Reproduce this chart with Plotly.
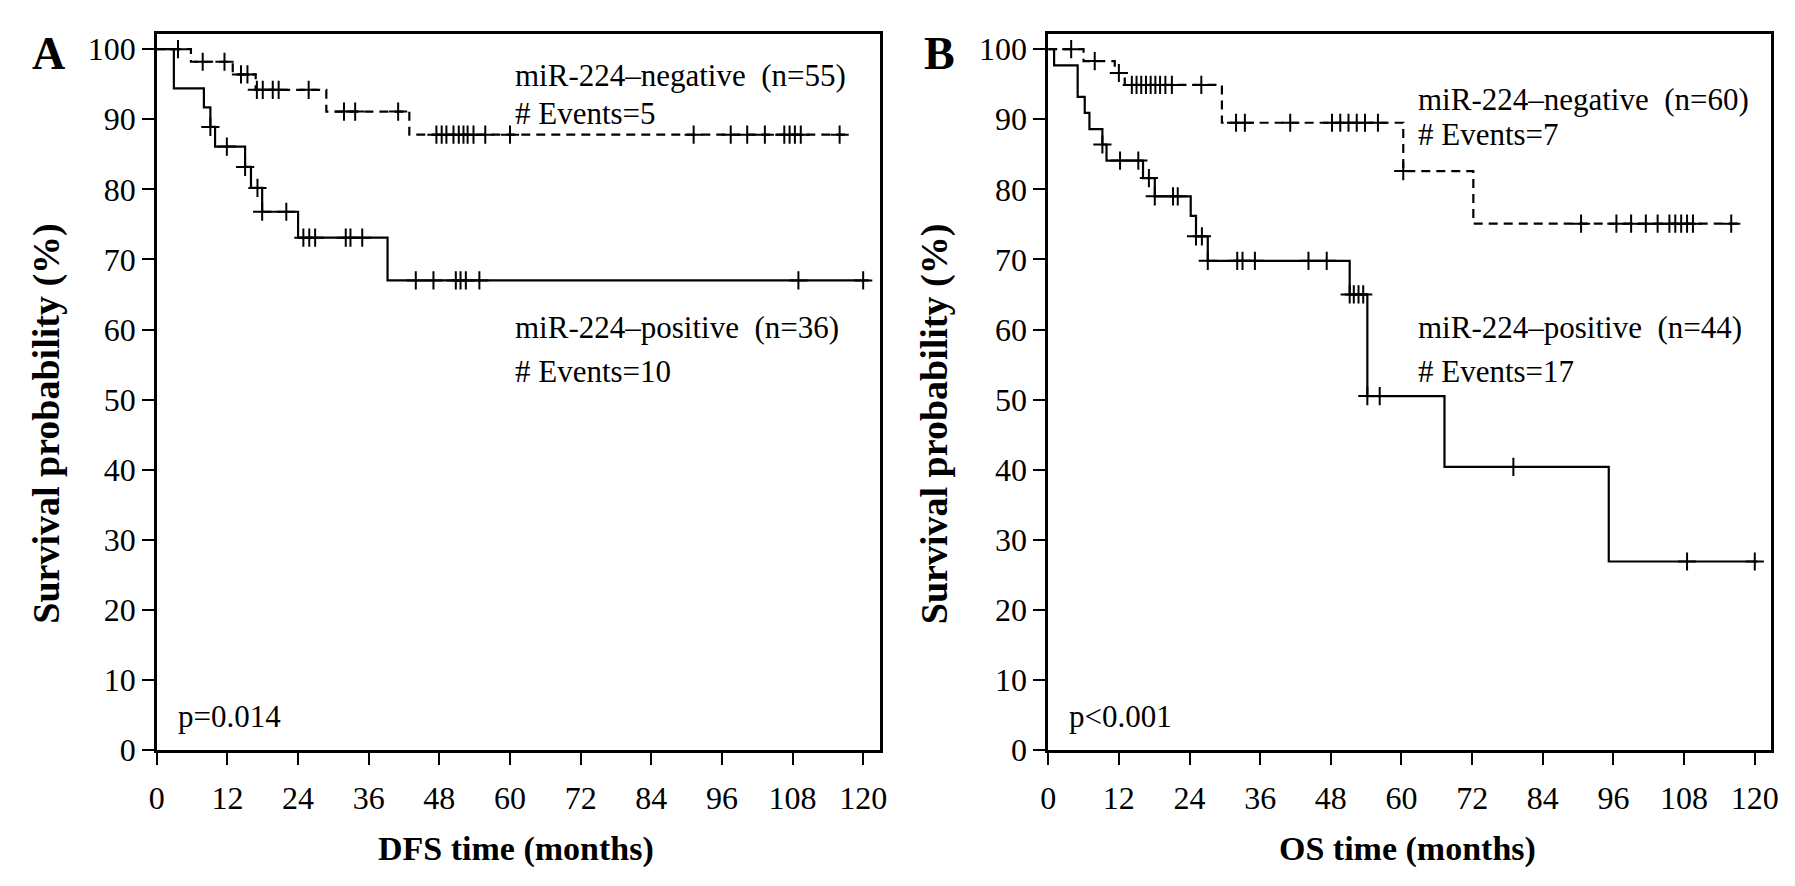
import numpy as np
import plotly.graph_objects as go
from plotly.subplots import make_subplots

# ---- panel A: DFS ----
a_neg_times = [5.8, 12.9, 16.8, 28.8, 42.9]
a_neg_surv = [98.2, 96.4, 94.2, 91.1, 87.8]
a_neg_last = 117.4
a_neg_censored = [3.6, 7.8, 11.5, 14.3, 15.4, 17.0, 18.0, 19.7, 20.7, 25.8, 31.8, 33.7, 41.0,
                  47.5, 48.4, 49.2, 50.4, 51.3, 52.1, 52.8, 53.8, 55.8, 60.0,
                  91.2, 97.5, 100.3, 103.3, 106.6, 107.5, 108.4, 109.4, 116.0]

a_pos_times = [2.9, 8.0, 9.1, 9.9, 15.0, 16.0, 17.9, 24.0, 39.2]
a_pos_surv = [94.4, 91.7, 88.9, 86.1, 83.2, 80.2, 76.8, 73.1, 67.0]
a_pos_last = 121.0
a_pos_censored = [9.1, 11.9, 15.0, 17.1, 17.9, 22.0, 24.9, 25.9, 26.9, 32.1, 32.9, 34.9,
                  44.0, 47.0, 50.8, 51.6, 52.5, 54.8, 109.0, 120.0]

# ---- panel B: OS ----
b_neg_times = [6.0, 11.3, 13.0, 29.5, 60.3, 72.2]
b_neg_surv = [98.3, 96.6, 94.9, 89.5, 82.6, 75.1]
b_neg_last = 117.5
b_neg_censored = [3.9, 7.9, 12.0, 14.2, 15.0, 15.8, 16.6, 17.4, 18.2, 19.0, 19.9, 21.0, 26.0,
                  31.9, 33.4, 41.1, 48.2, 49.6, 51.0, 52.4, 53.8, 56.0, 60.3,
                  90.5, 96.5, 99.0, 101.5, 103.5, 105.5, 106.5, 107.5, 108.5, 109.5, 116.0]

b_pos_times = [1.0, 5.0, 6.2, 7.0, 9.2, 9.9, 16.1, 18.1, 24.2, 25.1, 27.1, 51.2, 54.2, 67.3, 95.2]
b_pos_surv = [97.7, 93.2, 90.9, 88.6, 86.4, 84.1, 81.6, 79.0, 76.2, 73.3, 69.8, 65.0, 50.5, 40.4, 26.9]
b_pos_last = 120.5
b_pos_censored = [9.2, 12.2, 15.3, 17.1, 18.1, 21.2, 22.0, 25.1, 26.1, 27.1, 32.1, 33.0, 35.1,
                  44.2, 47.3, 51.2, 51.9, 52.7, 53.5, 54.2, 56.3, 79.0, 108.5, 120.0]

x_ticks = list(range(0, 121, 12))
y_ticks = list(range(0, 101, 10))

FONT = "Liberation Serif"


def km_path(times, surv, last):
    x = [0] + list(times) + [last]
    y = [100] + list(surv) + [surv[-1]]
    return x, y


def level_at(times, surv, t):
    levels = [100] + list(surv)
    idx = np.searchsorted(np.array(times), np.array(t), side='right')
    return [levels[i] for i in idx]


fig = make_subplots(rows=1, cols=2)

curves = [
    (a_neg_times, a_neg_surv, a_neg_last, a_neg_censored, '9px,6px', 1),
    (a_pos_times, a_pos_surv, a_pos_last, a_pos_censored, 'solid', 1),
    (b_neg_times, b_neg_surv, b_neg_last, b_neg_censored, '9px,6px', 2),
    (b_pos_times, b_pos_surv, b_pos_last, b_pos_censored, 'solid', 2),
]

for times, surv, last, cens, dash, col in curves:
    x, y = km_path(times, surv, last)
    fig.add_trace(go.Scatter(x=x, y=y, mode='lines', line_shape='hv',
                             line=dict(color='black', width=2.2, dash=dash),
                             hoverinfo='skip'), row=1, col=col)
    fig.add_trace(go.Scatter(x=cens, y=level_at(times, surv, cens), mode='markers',
                             marker=dict(symbol='cross-thin', size=13,
                                         line=dict(width=2, color='black'))),
                  row=1, col=col)

axis_common = dict(showline=True, linewidth=2.5, linecolor='black', mirror=True,
                   showgrid=False, zeroline=False, ticks='outside', ticklen=12,
                   tickwidth=2, tickcolor='black',
                   tickfont=dict(family=FONT, size=32, color='black'))

fig.update_xaxes(range=[0, 122.8], tickvals=x_ticks, ticklabelstandoff=6, **axis_common)
fig.update_yaxes(range=[0, 102.1], tickvals=y_ticks, **axis_common)

fig.update_layout(
    width=1795, height=886,
    margin=dict(l=0, r=0, t=0, b=0),
    paper_bgcolor='white', plot_bgcolor='white',
    showlegend=False,
    xaxis=dict(domain=[0.0791, 0.4852]),
    xaxis2=dict(domain=[0.5799, 0.9861]),
    yaxis=dict(domain=[0.1456, 0.9729]),
    yaxis2=dict(domain=[0.1456, 0.9729]),
)

txt = dict(family=FONT, size=31, color='black')
notes = [
    ('x', 'y', 60.5, 96.3, 'miR-224–negative\u00a0 (n=55)'),
    ('x', 'y', 60.5, 90.8, '# Events=5'),
    ('x', 'y', 60.5, 60.3, 'miR-224–positive\u00a0 (n=36)'),
    ('x', 'y', 60.5, 54.0, '# Events=10'),
    ('x', 'y', 3.2, 4.8, 'p=0.014'),
    ('x2', 'y2', 62.5, 92.8, 'miR-224–negative\u00a0 (n=60)'),
    ('x2', 'y2', 62.5, 87.8, '# Events=7'),
    ('x2', 'y2', 62.5, 60.3, 'miR-224–positive\u00a0 (n=44)'),
    ('x2', 'y2', 62.5, 54.0, '# Events=17'),
    ('x2', 'y2', 3.2, 4.8, 'p<0.001'),
]
for xr, yr, x, y, t in notes:
    fig.add_annotation(x=x, y=y, xref=xr, yref=yr, text=t, showarrow=False,
                       xanchor='left', yanchor='middle', font=txt)

for xr, name in [('x', 'DFS time (months)'), ('x2', 'OS time (months)')]:
    fig.add_annotation(x=61, y=0.031, xref=xr, yref='paper', text='<b>%s</b>' % name,
                       showarrow=False, xanchor='center', yanchor='middle',
                       font=dict(family=FONT, size=34, color='black'))

for px in [0.0173, 0.5164]:
    fig.add_annotation(x=px, y=0.5226, xref='paper', yref='paper',
                       text='<b>Survival probability (%)</b>', textangle=-90,
                       showarrow=False, xanchor='center', yanchor='middle',
                       font=dict(family=FONT, size=38, color='black'))

for px, letter in [(0.018, 'A'), (0.519, 'B')]:
    fig.add_annotation(x=px, y=0.951, xref='paper', yref='paper', text='<b>%s</b>' % letter,
                       showarrow=False, xanchor='center', yanchor='middle',
                       font=dict(family=FONT, size=46, color='black'))

fig.write_html("out.html")
